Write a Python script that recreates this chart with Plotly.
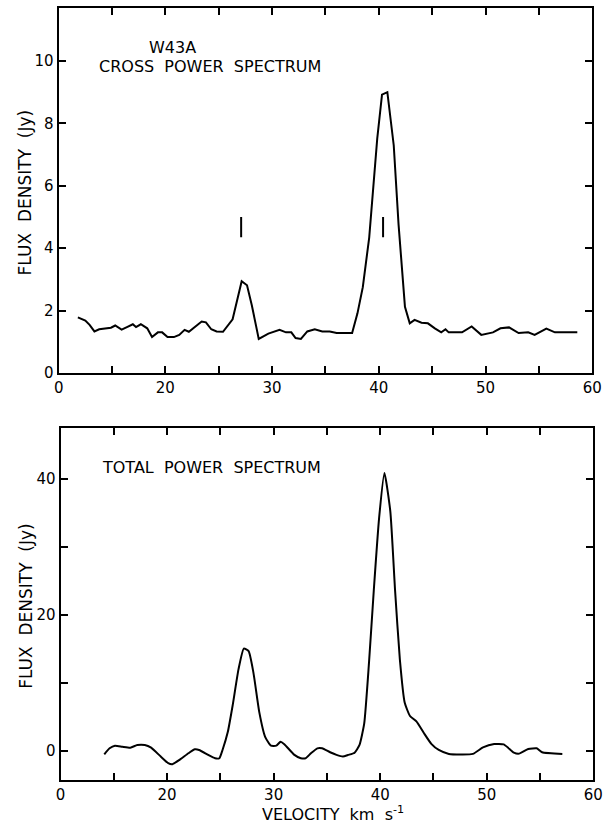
import plotly.graph_objects as go

# ---- data: cross power spectrum (top) ----
cross_vel = [11.8, 12.5, 12.9, 13.35, 13.8, 14.4, 14.9, 15.3, 15.9, 16.4, 16.95, 17.25, 17.7, 18.3,
             18.75, 19.3, 19.7, 20.2, 20.8, 21.3, 21.8, 22.2, 22.8, 23.4, 23.8, 24.3, 24.8, 25.4,
             26.3, 27.15, 27.65, 28.1, 28.75, 29.65, 30.7, 31.3, 31.8, 32.2, 32.7, 33.3, 34.0,
             34.7, 35.4, 36.05, 37.5, 38.0, 38.5, 39.1, 39.85, 40.3, 40.8, 41.4, 41.85, 42.45,
             42.9, 43.35, 44.0, 44.6, 45.25, 45.85, 46.25, 46.55, 47.8, 48.7, 49.6, 50.7, 51.4,
             52.2, 53.1, 54.0, 54.6, 55.7, 56.5, 58.6]
cross_flux = [1.78, 1.68, 1.54, 1.33, 1.40, 1.42, 1.45, 1.52, 1.39, 1.47, 1.56, 1.47, 1.56, 1.43,
              1.15, 1.30, 1.30, 1.15, 1.15, 1.22, 1.38, 1.32, 1.49, 1.65, 1.62, 1.40, 1.33, 1.32,
              1.72, 2.94, 2.81, 2.17, 1.09, 1.26, 1.38, 1.30, 1.30, 1.12, 1.09, 1.33, 1.40,
              1.33, 1.33, 1.28, 1.28, 1.91, 2.75, 4.34, 7.5, 8.92, 9.0, 7.29, 4.76, 2.12,
              1.59, 1.70, 1.61, 1.59, 1.43, 1.30, 1.40, 1.30, 1.30, 1.49, 1.22, 1.30, 1.43,
              1.46, 1.28, 1.30, 1.22, 1.42, 1.30, 1.30]

# ---- data: total power spectrum (bottom) ----
total_vel = [14.1, 14.6, 15.1, 15.8, 16.55, 17.2, 17.9, 18.5, 19.4, 20.1, 20.5, 21.25, 22.0, 22.6,
             23.0, 23.85, 24.5, 24.9, 25.2, 25.7, 26.15, 26.7, 27.2, 27.65, 28.1, 28.65, 29.2,
             29.75, 30.25, 30.65, 31.0, 31.95, 32.55, 33.0, 33.5, 34.1, 34.55, 35.3, 35.9, 36.5,
             37.0, 37.6, 38.05, 38.5, 38.95, 39.4, 39.9, 40.4, 40.95, 41.4, 41.85, 42.3, 42.8,
             43.4, 44.1, 44.8, 45.5, 46.45, 48.7, 49.65, 50.7, 51.6, 52.55, 53.05, 53.9, 54.7,
             55.2, 57.1]
total_flux = [-0.54, 0.34, 0.73, 0.58, 0.44, 0.83, 0.83, 0.44, -0.87, -1.84, -1.99, -1.26, -0.39, 0.19,
              0.10, -0.63, -1.12, -1.12, 0.10, 2.77, 6.65, 11.98, 15.04, 14.66, 11.5, 5.68, 2.04,
              0.73, 0.73, 1.31, 0.95, -0.63, -1.12, -1.12, -0.39, 0.34, 0.34, -0.24, -0.63, -0.87,
              -0.63, -0.3, 0.8, 3.97, 12.95, 23.6, 34.3, 40.9, 35.3, 23.6, 13.4, 7.1, 5.1,
              4.3, 2.6, 1.0, 0.1, -0.48, -0.48, 0.48, 0.97, 0.92, -0.29, -0.44, 0.24, 0.34,
              -0.24, -0.48]

# velocity markers in top panel
marker_vel = [27.1, 40.4]
marker_lo, marker_hi = 4.35, 5.0

x_tickvals = [10, 20, 30, 40, 50, 60]
x_ticktext = ["0", "20", "30", "40", "50", "60"]
x_minorvals = [15, 25, 35, 45, 55]
top_y_tickvals = [0, 2, 4, 6, 8, 10]
top_y_ticktext = ["0", "2", "4", "6", "8", "10"]
bot_y_tickvals = [0, 20, 40]
bot_y_ticktext = ["0", "20", "40"]
bot_y_minorvals = [10, 30]

FONT = "DejaVu Sans"
W, H = 612, 835

fig = go.Figure()
fig.add_trace(go.Scatter(x=cross_vel, y=cross_flux, mode="lines",
                         line=dict(color="black", width=2), xaxis="x", yaxis="y"))
fig.add_trace(go.Scatter(x=total_vel, y=total_flux, mode="lines",
                         line=dict(color="black", width=2, shape="spline", smoothing=0.5),
                         xaxis="x2", yaxis="y2"))

for v in marker_vel:
    fig.add_shape(type="line", xref="x", yref="y", x0=v, x1=v, y0=marker_lo, y1=marker_hi,
                  line=dict(color="black", width=2))

axis_common = dict(showline=True, linecolor="black", linewidth=2, mirror="ticks",
                   ticks="inside", ticklen=7, tickwidth=1.5, tickcolor="black",
                   showgrid=False, zeroline=False,
                   tickfont=dict(family=FONT, size=15, color="black"))

def minor(vals):
    return dict(tickmode="array", tickvals=vals, ticks="inside", ticklen=7,
                tickwidth=1.5, tickcolor="black", showgrid=False)

fig.update_layout(
    width=W, height=H, margin=dict(l=0, r=0, t=0, b=0),
    paper_bgcolor="white", plot_bgcolor="white", showlegend=False,
    xaxis=dict(domain=[55 / W, 602 / W], range=[10, 60], tickvals=x_tickvals,
               ticktext=x_ticktext, anchor="y", minor=minor(x_minorvals), **axis_common),
    yaxis=dict(domain=[(H - 377) / H, (H - 8) / H], range=[0, 11.7], tickvals=top_y_tickvals,
               ticktext=top_y_ticktext, anchor="x", **axis_common),
    xaxis2=dict(domain=[57 / W, 603 / W], range=[10, 60], tickvals=x_tickvals,
                ticktext=x_ticktext, anchor="y2", minor=minor(x_minorvals), **axis_common),
    yaxis2=dict(domain=[(H - 789) / H, (H - 433) / H], range=[-4.4, 47.5],
                tickvals=bot_y_tickvals, ticktext=bot_y_ticktext, anchor="x2",
                minor=minor(bot_y_minorvals), **axis_common),
)

def ann(text, x, y, xanchor="center", angle=0, size=16):
    fig.add_annotation(text=text, xref="paper", yref="paper", x=x / W, y=1 - y / H,
                       xanchor=xanchor, yanchor="middle", showarrow=False, textangle=angle,
                       font=dict(family=FONT, size=size, color="black"))

ann("W43A", 172, 48)
ann("CROSS  POWER  SPECTRUM", 94, 67, xanchor="left")
ann("TOTAL  POWER  SPECTRUM", 97, 473, xanchor="left")
ann("FLUX  DENSITY  (Jy)", 20, 195, angle=-90, size=17)
ann("FLUX  DENSITY  (Jy)", 22, 612, angle=-90, size=17)
ann("VELOCITY  km  s<sup>-1</sup>", 336, 822)

fig.write_html("out.html")
